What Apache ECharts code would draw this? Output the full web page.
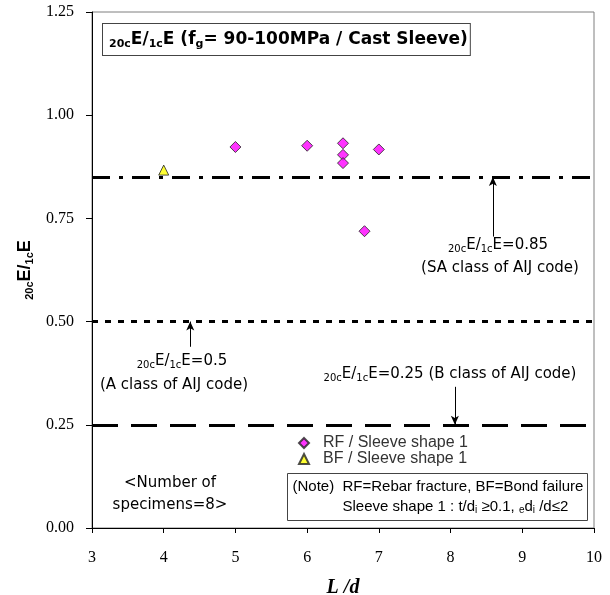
<!DOCTYPE html>
<html>
<head>
<meta charset="utf-8">
<script src="https://cdn.jsdelivr.net/npm/echarts@6/dist/echarts.min.js"></script>
<style>
  html, body { margin: 0; padding: 0; background: #fff; }
  #chart { width: 610px; height: 595px; }
</style>
</head>
<body>
<div id="chart"></div>
<script>
// data
const rfLd = [5, 6, 6.5, 6.5, 6.5, 7, 6.8];
const rfRatio = [0.923, 0.926, 0.932, 0.904, 0.884, 0.917, 0.719];
const bfLd = [4];
const bfRatio = [0.867];
const refLevels = [0.85, 0.5, 0.25];
const refStyles = [[18, 9, 4, 9], [6, 7], [26, 13]];
// arrows: [x, from y, to y (head)]
const arrows = [[8.59, 0.706, 0.85], [4.37, 0.439, 0.5], [8.06, 0.342, 0.25]];
const legendNames = ['RF / Sleeve shape 1', 'BF / Sleeve shape 1'];

const sansFont = 'Liberation Sans';
const annFont = 'DejaVu Sans';
const subStyle = { fontSize: 10, fontFamily: sansFont, color: '#333', verticalAlign: 'bottom', lineHeight: 18 };
const bigStyle = { fontSize: 15, fontFamily: sansFont, color: '#333', lineHeight: 18 };
const annSub = { fontSize: 10, fontFamily: annFont, color: '#2a2a2a', verticalAlign: 'bottom', lineHeight: 18 };
const annBig = { fontSize: 15, fontFamily: annFont, color: '#2a2a2a', lineHeight: 18 };

const chart = echarts.init(document.getElementById('chart'));

const markData = refLevels.map((v, i) => ({
    yAxis: v,
    lineStyle: { type: refStyles[i], width: 3, color: '#000' }
}));
arrows.forEach(a => {
    markData.push([
        { coord: [a[0], a[1]], symbol: 'none', lineStyle: { type: 'solid', width: 1, color: '#000' } },
        { coord: [a[0], a[2]], symbol: 'arrow', symbolSize: [6, 9] }
    ]);
});

function annot(x, y, txt) {
    return {
        type: 'text', x: x, y: y,
        style: {
            text: txt, align: 'center', verticalAlign: 'middle',
            rich: { s: annSub, b: annBig }
        }
    };
}

const option = {
    animation: false,
    grid: { left: 92, right: 16, top: 12, bottom: 67, outerBoundsMode: 'none',
        show: true, borderColor: '#7f7f7f', borderWidth: 1 },
    xAxis: {
        type: 'value', min: 3, max: 10, interval: 1,
        name: 'L /d', nameLocation: 'middle', nameGap: 50,
        nameTextStyle: { fontFamily: 'Liberation Serif', fontSize: 20, fontWeight: 'bold', fontStyle: 'italic', color: '#000' },
        axisLine: { lineStyle: { color: '#000', width: 1 } },
        axisTick: { show: true, length: 5, lineStyle: { color: '#000' } },
        axisLabel: { fontFamily: 'Liberation Serif', fontSize: 16, color: '#000', margin: 22 },
        splitLine: { show: false }
    },
    yAxis: {
        type: 'value', min: 0, max: 1.25, interval: 0.25,
        name: '{s|20c}{b|E/}{s|1c}{b|E}', nameLocation: 'middle', nameGap: 57, nameRotate: 90,
        nameTextStyle: {
            rich: {
                s: { fontSize: 11, fontWeight: 'bold', fontFamily: sansFont, color: '#000', verticalAlign: 'bottom', lineHeight: 20 },
                b: { fontSize: 18, fontWeight: 'bold', fontFamily: sansFont, color: '#000', lineHeight: 20 }
            }
        },
        axisLine: { show: true, lineStyle: { color: '#000', width: 1 } },
        axisTick: { show: true, length: 6, lineStyle: { color: '#000' } },
        axisLabel: { fontFamily: 'Liberation Serif', fontSize: 16, color: '#000', margin: 18,
            padding: [6, 0, 0, 0], formatter: v => v.toFixed(2) },
        splitLine: { show: false }
    },
    legend: {
        data: legendNames,
        orient: 'vertical', left: 293, top: 430, itemGap: 0,
        itemWidth: 10, itemHeight: 10,
        textStyle: { fontFamily: sansFont, fontSize: 16, color: '#333', lineHeight: 15, padding: [0, 0, 0, 9] }
    },
    series: [
        {
            name: legendNames[0], type: 'scatter', symbol: 'diamond', symbolSize: 11,
            itemStyle: { color: '#ff00ff', borderColor: '#222', borderWidth: 1 },
            data: rfLd.map((x, i) => [x, rfRatio[i]]), z: 5
        },
        {
            name: legendNames[1], type: 'scatter', symbol: 'triangle', symbolSize: 10,
            itemStyle: { color: '#ffff00', borderColor: '#222', borderWidth: 1 },
            data: bfLd.map((x, i) => [x, bfRatio[i]]), z: 5
        },
        {
            name: 'ref', type: 'line', data: [], silent: true,
            markLine: {
                silent: true, symbol: ['none', 'none'], label: { show: false },
                emphasis: { disabled: true },
                data: markData
            }
        }
    ],
    graphic: [
        {
            type: 'text', left: 102, top: 23,
            style: {
                text: '{s|20c}{b|E/}{s|1c}{b|E (f}{s|g}{b|= 90-100MPa / Cast Sleeve)}',
                backgroundColor: '#fff', borderColor: '#444', borderWidth: 1,
                padding: [6, 2, 5, 6],
                rich: {
                    s: { fontSize: 11, fontWeight: 'bold', fontFamily: 'DejaVu Sans', color: '#000', verticalAlign: 'bottom', lineHeight: 20 },
                    b: { fontSize: 17, fontWeight: 'bold', fontFamily: 'DejaVu Sans', color: '#000', lineHeight: 20 }
                }
            }
        },
        annot(498, 245, '{s|20c}{b|E/}{s|1c}{b|E=0.85}'),
        annot(500, 268, '{b|(SA class of AIJ code)}'),
        annot(182, 361, '{s|20c}{b|E/}{s|1c}{b|E=0.5}'),
        annot(174, 385, '{b|(A class of AIJ code)}'),
        annot(450, 374, '{s|20c}{b|E/}{s|1c}{b|E=0.25 (B class of AIJ code)}'),
        {
            type: 'text', x: 170, y: 483,
            style: { text: '<Number of', align: 'center', verticalAlign: 'middle',
                font: '15px "DejaVu Sans"', fill: '#000' }
        },
        {
            type: 'text', x: 170, y: 505,
            style: { text: 'specimens=8>', align: 'center', verticalAlign: 'middle',
                font: '15px "DejaVu Sans"', fill: '#000' }
        },
        {
            type: 'group', left: 287, top: 473,
            children: [
                { type: 'rect', shape: { x: 0, y: 0, width: 300, height: 47 },
                  style: { fill: '#fff', stroke: '#444', lineWidth: 1 } },
                { type: 'text', x: 5, y: 4,
                  style: { text: '{b|(Note)  RF=Rebar fracture, BF=Bond failure}', rich: { b: bigStyle } } },
                { type: 'text', x: 55, y: 24,
                  style: { text: '{b|Sleeve shape 1 : t/d}{s|i}{b| ≥0.1, }{s|e}{b|d}{s|i}{b| /d≤2}', rich: { s: subStyle, b: bigStyle } } }
            ]
        }
    ]
};

chart.setOption(option);
</script>
</body>
</html>
